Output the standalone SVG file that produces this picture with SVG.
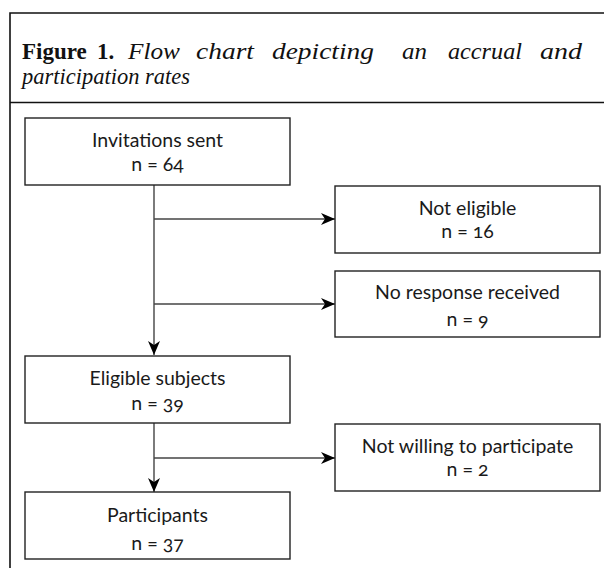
<svg xmlns="http://www.w3.org/2000/svg" width="604" height="568" viewBox="0 0 604 568">
  <defs>
    <style>
      .frame { stroke: #111; stroke-width: 1.6; fill: none; }
      .box { fill: #fff; stroke: #222; stroke-width: 1.4; }
      .link { fill: none; stroke: #444; stroke-width: 1.4; }
      .label { font-family: Lato, "Liberation Sans", sans-serif; font-size: 19.5px; fill: #1a1a1a; text-anchor: middle; font-variant-numeric: oldstyle-nums; }
      .title { font-family: "Liberation Serif", serif; font-size: 23.5px; fill: #111; }
      .title-bold { font-weight: bold; font-size: 23px; }
      .title-it { font-style: italic; }
    </style>
    <marker id="arrow" viewBox="0 0 14 12" refX="14" refY="6" markerWidth="14" markerHeight="12" markerUnits="userSpaceOnUse" orient="auto">
      <path d="M0,0 L14,6 L0,12 L4,6 Z" fill="#000"/>
    </marker>
  </defs>

  <rect width="604" height="568" fill="#fff"/>

  <!-- caption frame -->
  <g id="frame">
    <path class="frame" d="M10,568 V13 H604"/>
    <path class="frame" d="M10,102.5 H604" stroke-width="1.4"/>
  </g>

  <!-- caption text, first line justified word by word -->
  <g id="caption" class="title">
    <text y="59">
      <tspan x="22" class="title-bold">Figure</tspan>
      <tspan x="97" class="title-bold">1.</tspan>
      <tspan x="128" class="title-it" textLength="52" lengthAdjust="spacingAndGlyphs">Flow</tspan>
      <tspan x="196" class="title-it" textLength="58" lengthAdjust="spacingAndGlyphs">chart</tspan>
      <tspan x="272" class="title-it" textLength="102" lengthAdjust="spacingAndGlyphs">depicting</tspan>
      <tspan x="402" class="title-it" textLength="25" lengthAdjust="spacingAndGlyphs">an</tspan>
      <tspan x="448" class="title-it" textLength="74" lengthAdjust="spacingAndGlyphs">accrual</tspan>
      <tspan x="540" class="title-it" textLength="42" lengthAdjust="spacingAndGlyphs">and</tspan>
    </text>
    <text x="22" y="84" class="title-it" textLength="168" lengthAdjust="spacingAndGlyphs">participation rates</text>
  </g>

  <!-- connectors -->
  <g id="connectors">
    <path class="link" d="M154,185 V355" marker-end="url(#arrow)"/>
    <path class="link" d="M154,219 H335" marker-end="url(#arrow)"/>
    <path class="link" d="M154,304 H335" marker-end="url(#arrow)"/>
    <path class="link" d="M154,423 V492" marker-end="url(#arrow)"/>
    <path class="link" d="M154,458 H335" marker-end="url(#arrow)"/>
  </g>

  <!-- nodes -->
  <g id="invitations">
    <rect class="box" x="25" y="118" width="265" height="67"/>
    <text class="label" x="157.5" y="147">Invitations sent</text>
    <text class="label" x="157.5" y="171">n = 64</text>
  </g>

  <g id="not-eligible">
    <rect class="box" x="335" y="186" width="265" height="67"/>
    <text class="label" x="467.5" y="215">Not eligible</text>
    <text class="label" x="467.5" y="238">n = 16</text>
  </g>

  <g id="no-response">
    <rect class="box" x="335" y="271" width="265" height="66"/>
    <text class="label" x="467.5" y="299">No response received</text>
    <text class="label" x="467.5" y="326">n = 9</text>
  </g>

  <g id="eligible">
    <rect class="box" x="25" y="356" width="265" height="67"/>
    <text class="label" x="157.5" y="385">Eligible subjects</text>
    <text class="label" x="157.5" y="410">n = 39</text>
  </g>

  <g id="not-willing">
    <rect class="box" x="335" y="424" width="265" height="67"/>
    <text class="label" x="467.5" y="453">Not willing to participate</text>
    <text class="label" x="467.5" y="476">n = 2</text>
  </g>

  <g id="participants">
    <rect class="box" x="25" y="492" width="265" height="67"/>
    <text class="label" x="157.5" y="522">Participants</text>
    <text class="label" x="157.5" y="550">n = 37</text>
  </g>
</svg>
